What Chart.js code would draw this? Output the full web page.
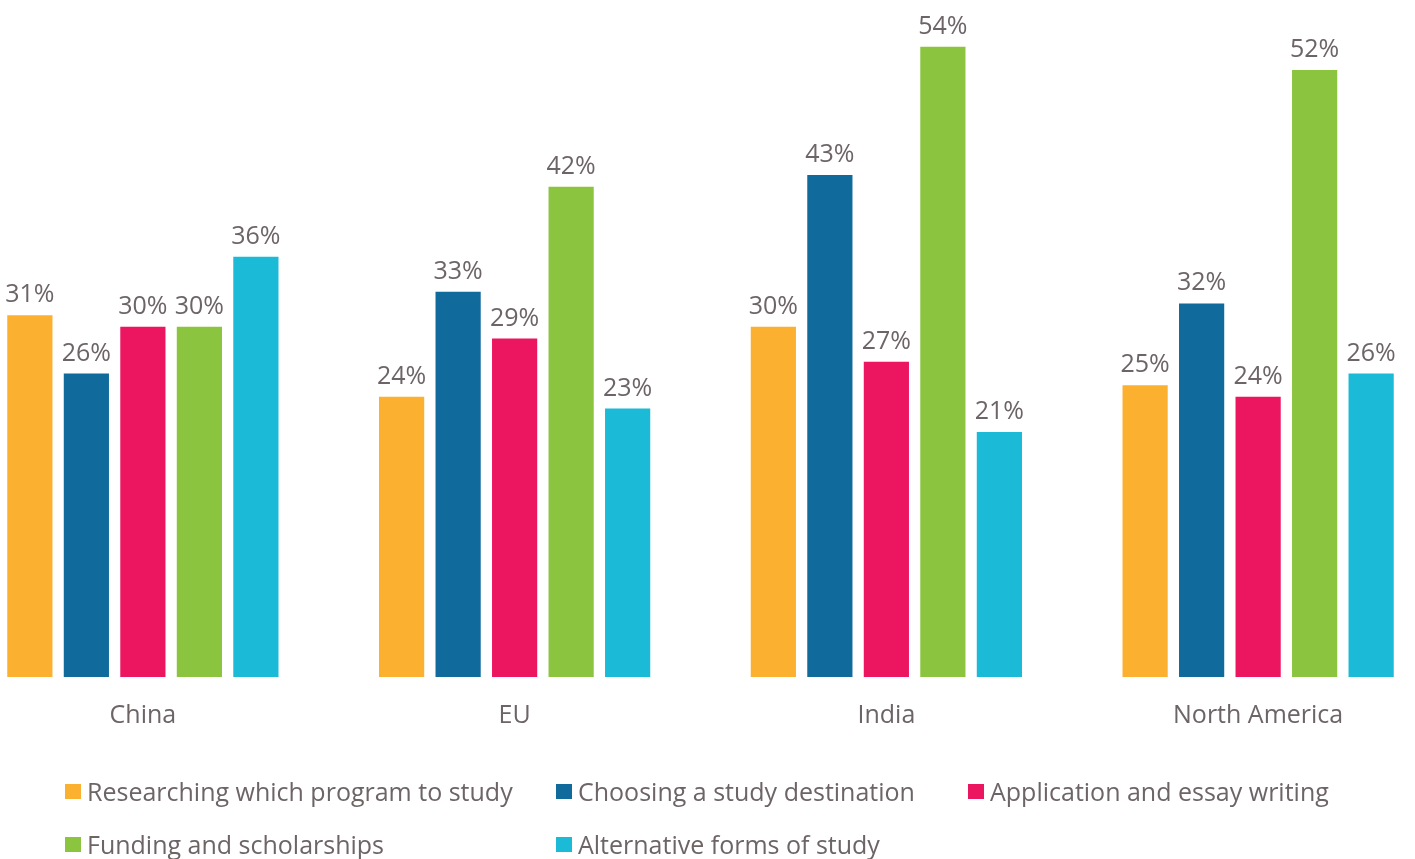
<!DOCTYPE html>
<html>
<head>
<meta charset="utf-8">
<script src="https://cdn.jsdelivr.net/npm/chart.js@4.4.1/dist/chart.umd.min.js"></script>
<style>
  html, body { margin: 0; padding: 0; background: #fff; overflow: hidden; }
  body { width: 1415px; height: 859px; position: relative; font-family: "Open Sans", sans-serif; }
  #wrap { position: absolute; left: -43px; top: 0; width: 1487px; height: 747px; }
  #legend { position: absolute; left: 0; top: 0; width: 1415px; height: 859px; pointer-events: none; }
  .item { position: absolute; display: flex; align-items: center; height: 30px; color: #6d6466; font-size: 25px; white-space: nowrap; }
  .item .box { width: 16px; height: 15px; margin-right: 6px; }
</style>
</head>
<body>
<div id="wrap"><canvas id="chart"></canvas></div>
<div id="legend"></div>
<script>
const regions = ["China", "EU", "India", "North America"];
const seriesNames = [
  "Researching which program to study",
  "Choosing a study destination",
  "Application and essay writing",
  "Funding and scholarships",
  "Alternative forms of study"
];
const researching = [31, 24, 30, 25];
const destination = [26, 33, 43, 32];
const application = [30, 29, 27, 24];
const funding = [30, 42, 54, 52];
const alternative = [36, 23, 21, 26];
const colors = ["#fbb030", "#106a9c", "#ec1660", "#8bc43f", "#1bbad6"];

const textColor = "#6d6466";
const fontFamily = '"Open Sans", sans-serif';

const values = [researching, destination, application, funding, alternative];

// value labels above each bar
const barLabels = {
  id: "barLabels",
  afterDatasetsDraw(chart) {
    const ctx = chart.ctx;
    ctx.save();
    ctx.font = "25px " + fontFamily;
    ctx.fillStyle = textColor;
    ctx.textAlign = "center";
    ctx.textBaseline = "alphabetic";
    chart.data.datasets.forEach((ds, i) => {
      const meta = chart.getDatasetMeta(i);
      meta.data.forEach((bar, j) => {
        ctx.fillText(ds.data[j] + "%", bar.x, bar.y - 13);
      });
    });
    ctx.restore();
  }
};

const chart = new Chart(document.getElementById("chart"), {
  type: "bar",
  data: {
    labels: regions,
    datasets: seriesNames.map((name, i) => ({
      label: name,
      data: values[i],
      backgroundColor: colors[i],
      borderWidth: 0,
      categoryPercentage: 0.76,
      barPercentage: 0.8
    }))
  },
  options: {
    responsive: true,
    maintainAspectRatio: false,
    animation: false,
    layout: { padding: 0 },
    plugins: { legend: { display: false }, tooltip: { enabled: false } },
    scales: {
      y: { display: false, min: 0, max: 58 },
      x: {
        grid: { display: false },
        border: { display: false },
        ticks: { color: textColor, padding: 16, font: { family: fontFamily, size: 25 } }
      }
    }
  },
  plugins: [barLabels]
});

// html legend laid out in columns like the original
const legendEl = document.getElementById("legend");
const colX = [65, 556, 968];
const rowY = [776, 829];
chart.data.datasets.forEach((ds, i) => {
  const item = document.createElement("div");
  item.className = "item";
  item.style.left = colX[i % 3] + "px";
  item.style.top = rowY[Math.floor(i / 3)] + "px";
  const box = document.createElement("span");
  box.className = "box";
  box.style.background = ds.backgroundColor;
  const txt = document.createElement("span");
  txt.textContent = ds.label;
  item.appendChild(box);
  item.appendChild(txt);
  legendEl.appendChild(item);
});
</script>
</body>
</html>
